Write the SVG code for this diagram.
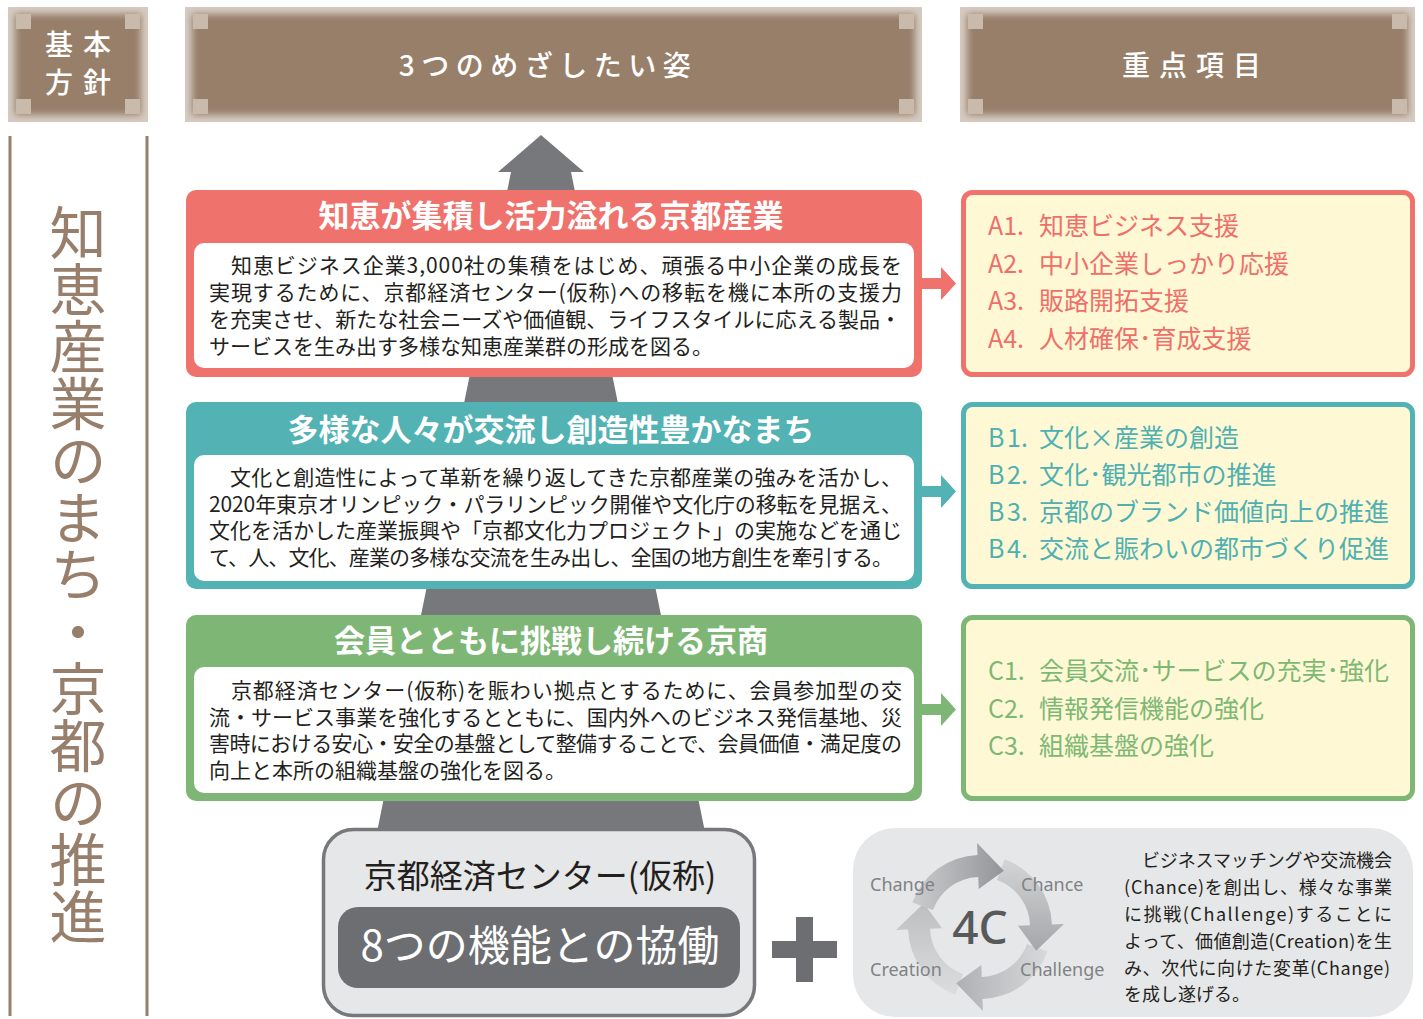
<svg xmlns="http://www.w3.org/2000/svg" width="1423" height="1019" viewBox="0 0 1423 1019">
<style>
.hdr-bg{fill:#d6cbc1}
.hdr{fill:#977f6b;filter:url(#soft)}
.sq{fill:#c9baab}
.hdr-t{font-family:"Noto Sans CJK JP","Noto Sans",sans-serif;font-size:28px;fill:#ffffff;font-weight:500}
.jp{font-family:"Noto Sans CJK JP","Noto Sans",sans-serif}
.title{font-family:"Noto Sans CJK JP",sans-serif;font-size:31px;font-weight:700;fill:#ffffff;text-anchor:middle}
.body{font-family:"Noto Sans CJK JP",sans-serif;font-size:21px;fill:#231f20}
.item{font-family:"Noto Sans CJK JP","Noto Sans",sans-serif;font-size:25px}
.lbl{font-family:"Noto Sans","Open Sans",sans-serif;font-size:18px;fill:#808285}
.desc{font-family:"Noto Sans CJK JP","Noto Sans",sans-serif;font-size:18px;fill:#231f20}
</style>
<defs>
<filter id="soft" x="-10%" y="-10%" width="120%" height="120%"><feGaussianBlur stdDeviation="3.5"/></filter>
<path id="carrow" d="M912.34,902.38 A72,72 0 0 1 977.49,855.04 L977.07,843.05 L1003.83,870.85 L978.67,889.02 L978.26,877.03 A50,50 0 0 0 933.02,909.90 Z"/>
<linearGradient id="g0" x1="0" y1="0" x2="1" y2="0"><stop offset="0" stop-color="#cbccce"/><stop offset="1" stop-color="#939598"/></linearGradient>
<linearGradient id="g1" x1="0" y1="0" x2="1" y2="0"><stop offset="0" stop-color="#d3d4d6"/><stop offset="1" stop-color="#a4a6a9"/></linearGradient>
<linearGradient id="g2" x1="0" y1="0" x2="1" y2="0"><stop offset="0" stop-color="#d8d9db"/><stop offset="1" stop-color="#aeb0b3"/></linearGradient>
<linearGradient id="g3" x1="0" y1="0" x2="1" y2="0"><stop offset="0" stop-color="#dcdddf"/><stop offset="1" stop-color="#bcbec0"/></linearGradient>
</defs>
<rect width="1423" height="1019" fill="#ffffff"/>

<!-- headers -->
<g id="hdr-kihon">
<rect class="hdr-bg" x="8" y="7" width="140" height="115"/>
<rect class="hdr" x="15" y="14" width="126" height="101"/>
<rect class="sq" x="16" y="14" width="15" height="15"/><rect class="sq" x="125" y="14" width="15" height="15"/>
<rect class="sq" x="16" y="99" width="15" height="15"/><rect class="sq" x="125" y="99" width="15" height="15"/>
<text class="hdr-t" x="83" y="55" text-anchor="middle" letter-spacing="10">基本</text>
<text class="hdr-t" x="83" y="93" text-anchor="middle" letter-spacing="10">方針</text>
</g>
<g id="hdr-mezasu">
<rect class="hdr-bg" x="185" y="7" width="737" height="115"/>
<rect class="hdr" x="192" y="14" width="723" height="101"/>
<rect class="sq" x="193" y="14" width="15" height="15"/><rect class="sq" x="899" y="14" width="15" height="15"/>
<rect class="sq" x="193" y="99" width="15" height="15"/><rect class="sq" x="899" y="99" width="15" height="15"/>
<text class="hdr-t" x="548" y="76" text-anchor="middle" letter-spacing="6.5">3つのめざしたい姿</text>
</g>
<g id="hdr-juten">
<rect class="hdr-bg" x="960" y="7" width="455" height="115"/>
<rect class="hdr" x="967" y="14" width="441" height="101"/>
<rect class="sq" x="968" y="14" width="15" height="15"/><rect class="sq" x="1392" y="14" width="15" height="15"/>
<rect class="sq" x="968" y="99" width="15" height="15"/><rect class="sq" x="1392" y="99" width="15" height="15"/>
<text class="hdr-t" x="1196" y="76" text-anchor="middle" letter-spacing="9">重点項目</text>
</g>

<!-- left vertical policy -->
<g id="policy">
<line x1="10" y1="136" x2="10" y2="1016" stroke="#977f6b" stroke-width="3"/>
<line x1="147" y1="136" x2="147" y2="1016" stroke="#977f6b" stroke-width="3"/>
<text class="jp" x="78" y="204" font-size="57" fill="#977f6b" style="writing-mode:vertical-rl">知恵産業のまち・京都の推進</text>
</g>

<!-- pyramid arrow -->
<g id="pyramid">
<polygon points="541,135 584,172 571,172 705,832 377,832 511,172 498,172" fill="#77787b"/>
</g>

<!-- red -->
<g id="goal-a">
<rect x="186" y="190" width="736" height="187" rx="10" fill="#f0726c"/>
<rect x="194" y="243" width="720" height="125" rx="10" fill="#ffffff"/>
<text class="title" x="551" y="227">知恵が集積し活力溢れる京都産業</text>
<text class="body" x="209" y="273" textLength="693" lengthAdjust="spacing">　知恵ビジネス企業3,000社の集積をはじめ、頑張る中小企業の成長を</text>
<text class="body" x="209" y="300" textLength="693" lengthAdjust="spacing">実現するために、京都経済センター(仮称)への移転を機に本所の支援力</text>
<text class="body" x="209" y="327" textLength="692" lengthAdjust="spacing">を充実させ、新たな社会ニーズや価値観、ライフスタイルに応える製品・</text>
<text class="body" x="209" y="354">サービスを生み出す多様な知恵産業群の形成を図る。</text>
</g>
<!-- teal -->
<g id="goal-b">
<rect x="186" y="402" width="736" height="187" rx="10" fill="#52b2b4"/>
<rect x="194" y="455" width="720" height="126" rx="10" fill="#ffffff"/>
<text class="title" x="551" y="441">多様な人々が交流し創造性豊かなまち</text>
<text class="body" x="209" y="485" textLength="693" lengthAdjust="spacing">　文化と創造性によって革新を繰り返してきた京都産業の強みを活かし、</text>
<text class="body" x="209" y="512" textLength="693" lengthAdjust="spacing">2020年東京オリンピック・パラリンピック開催や文化庁の移転を見据え、</text>
<text class="body" x="209" y="538" textLength="693" lengthAdjust="spacing">文化を活かした産業振興や「京都文化力プロジェクト」の実施などを通じ</text>
<text class="body" x="209" y="565" textLength="684" lengthAdjust="spacing">て、人、文化、産業の多様な交流を生み出し、全国の地方創生を牽引する。</text>
</g>
<!-- green -->
<g id="goal-c">
<rect x="186" y="615" width="736" height="186" rx="10" fill="#7eb775"/>
<rect x="194" y="667" width="720" height="126" rx="10" fill="#ffffff"/>
<text class="title" x="551" y="652">会員とともに挑戦し続ける京商</text>
<text class="body" x="209" y="698" textLength="693" lengthAdjust="spacing">　京都経済センター(仮称)を賑わい拠点とするために、会員参加型の交</text>
<text class="body" x="209" y="725" textLength="693" lengthAdjust="spacing">流・サービス事業を強化するとともに、国内外へのビジネス発信基地、災</text>
<text class="body" x="209" y="751" textLength="693" lengthAdjust="spacing">害時における安心・安全の基盤として整備することで、会員価値・満足度の</text>
<text class="body" x="209" y="778">向上と本所の組織基盤の強化を図る。</text>
</g>

<!-- connectors -->
<g id="connectors">
<polygon points="922,278 941,278 941,267 956,283.5 941,300 941,289 922,289" fill="#f0726c"/>
<polygon points="922,486 941,486 941,475 956,491.5 941,508 941,497 922,497" fill="#52b2b4"/>
<polygon points="922,704 941,704 941,693 956,709.5 941,726 941,715 922,715" fill="#7eb775"/>
</g>

<!-- right items -->
<g id="items-a">
<rect x="963.5" y="192.5" width="449" height="182" rx="9" fill="#fef9d4" stroke="#f0726c" stroke-width="5"/>
<g class="item" fill="#ef6f6a">
<text x="988" y="235">A1.<tspan x="1039">知恵ビジネス支援</tspan></text>
<text x="988" y="273">A2.<tspan x="1039">中小企業しっかり応援</tspan></text>
<text x="988" y="310">A3.<tspan x="1039">販路開拓支援</tspan></text>
<text x="988" y="348">A4.<tspan x="1039">人材確保･育成支援</tspan></text>
</g>
</g>
<g id="items-b">
<rect x="963.5" y="404.5" width="449" height="182" rx="9" fill="#fef9d4" stroke="#52b2b4" stroke-width="5"/>
<g class="item" fill="#4fb0b2">
<text x="988" y="447">B<tspan x="1007">1.</tspan><tspan x="1039">文化×産業の創造</tspan></text>
<text x="988" y="484">B<tspan x="1007">2.</tspan><tspan x="1039">文化･観光都市の推進</tspan></text>
<text x="988" y="521">B<tspan x="1007">3.</tspan><tspan x="1039">京都のブランド価値向上の推進</tspan></text>
<text x="988" y="558">B<tspan x="1007">4.</tspan><tspan x="1039">交流と賑わいの都市づくり促進</tspan></text>
</g>
</g>
<g id="items-c">
<rect x="963.5" y="617.5" width="449" height="181" rx="9" fill="#fef9d4" stroke="#7eb775" stroke-width="5"/>
<g class="item" fill="#7db874">
<text x="988" y="680">C1.<tspan x="1039">会員交流･サービスの充実･強化</tspan></text>
<text x="988" y="718">C2.<tspan x="1039">情報発信機能の強化</tspan></text>
<text x="988" y="755">C3.<tspan x="1039">組織基盤の強化</tspan></text>
</g>
</g>

<!-- center -->
<g id="center">
<rect x="323.5" y="829.5" width="431" height="186" rx="30" fill="#e6e7e8" stroke="#77787b" stroke-width="3.5"/>
<text class="jp" x="540" y="888" font-size="33" fill="#231f20" text-anchor="middle">京都経済センター(仮称)</text>
<rect x="338" y="907" width="402" height="81" rx="20" fill="#6d6e71"/>
<text class="jp" x="540" y="961" font-size="42" fill="#ffffff" text-anchor="middle">8つの機能との協働</text>
</g>

<!-- plus -->
<g id="plus">
<rect x="796" y="917" width="17" height="65" fill="#6d6e71"/>
<rect x="772" y="941" width="65" height="17" fill="#6d6e71"/>
</g>

<!-- 4C -->
<g id="fourc">
<rect x="853" y="828" width="560" height="189" rx="42" fill="#e6e7e8"/>
<use href="#carrow" fill="url(#g3)" transform="rotate(270 980 927)"/>
<use href="#carrow" fill="url(#g2)" transform="rotate(180 980 927)"/>
<use href="#carrow" fill="url(#g1)" transform="rotate(90 980 927)"/>
<use href="#carrow" fill="url(#g0)"/>
<text x="980" y="944" font-family="Noto Sans, Open Sans, sans-serif" font-size="46" font-weight="500" fill="#58595b" text-anchor="middle">4C</text>
<text class="lbl" x="870" y="891">Change</text>
<text class="lbl" x="1021" y="891">Chance</text>
<text class="lbl" x="870" y="976">Creation</text>
<text class="lbl" x="1020" y="976">Challenge</text>
<text class="desc" x="1124" y="867" textLength="268" lengthAdjust="spacing">　ビジネスマッチングや交流機会</text>
<text class="desc" x="1124" y="894" textLength="268" lengthAdjust="spacing">(Chance)を創出し、様々な事業</text>
<text class="desc" x="1124" y="921" textLength="268" lengthAdjust="spacing">に挑戦(Challenge)することに</text>
<text class="desc" x="1124" y="948" textLength="268" lengthAdjust="spacing">よって、価値創造(Creation)を生</text>
<text class="desc" x="1124" y="975" textLength="266" lengthAdjust="spacing">み、次代に向けた変革(Change)</text>
<text class="desc" x="1124" y="1001">を成し遂げる。</text>
</g>
</svg>
